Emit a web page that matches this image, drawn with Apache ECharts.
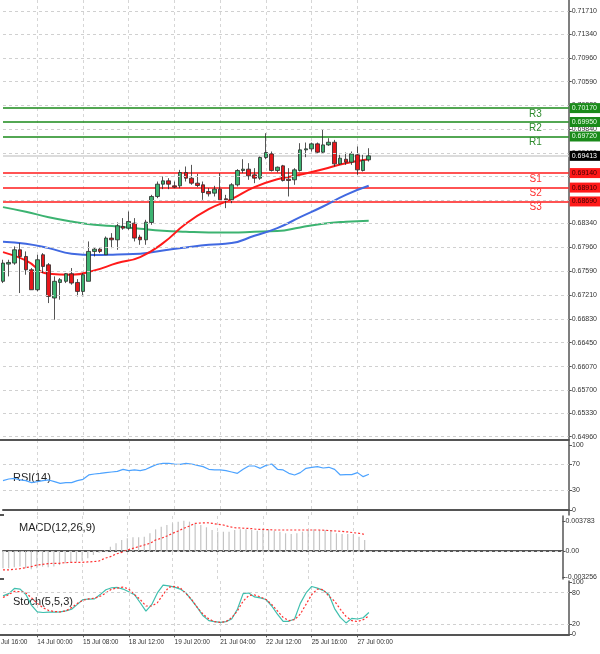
<!DOCTYPE html>
<html><head><meta charset="utf-8">
<script src="https://cdn.jsdelivr.net/npm/echarts@6/dist/echarts.min.js"></script>
<style>html,body{margin:0;padding:0;background:#fff}#c{width:600px;height:654px}</style>
</head><body><div id="c"></div>
<script>
// ---- data ----
const tickLabels = ['14 Jul 00:00','15 Jul 08:00','18 Jul 12:00','19 Jul 20:00','21 Jul 04:00','22 Jul 12:00','25 Jul 16:00','27 Jul 00:00'];
const tickIdx = [6,14,22,30,38,46,54,62];
const slotCount = 100;
const priceTicks = [0.71710,0.71340,0.70960,0.70590,0.70220,0.69840,0.69460,0.69090,0.68710,0.68340,0.67960,0.67590,0.67210,0.66830,0.66450,0.66070,0.65700,0.65330,0.64960];
// [open, close, low, high]
const candles = [
[0.67424,0.67713,0.67396,0.67766],[0.67697,0.67723,0.67502,0.67766],[0.67713,0.67924,0.67686,0.67977],[0.67924,0.67818,0.67238,0.68030],
[0.67818,0.67607,0.67528,0.67898],[0.67607,0.67290,0.67290,0.67634],[0.67290,0.67766,0.67264,0.67845],[0.67845,0.67660,0.67554,0.67871],
[0.67686,0.67185,0.67079,0.67713],[0.67159,0.67424,0.66815,0.67502],[0.67406,0.67449,0.67132,0.67475],[0.67424,0.67544,0.67396,0.67554],
[0.67544,0.67396,0.67370,0.67634],[0.67406,0.67264,0.67185,0.67459],[0.67264,0.67528,0.67185,0.67554],[0.67424,0.67898,0.67424,0.68056],
[0.67898,0.67934,0.67818,0.67966],[0.67934,0.67898,0.67871,0.67950],[0.67845,0.68109,0.67845,0.68135],[0.68109,0.68082,0.67950,0.68188],
[0.68082,0.68304,0.67924,0.68357],[0.68294,0.68267,0.68241,0.68426],[0.68267,0.68373,0.68241,0.68531],[0.68346,0.68109,0.68056,0.68426],
[0.68125,0.68082,0.68003,0.68162],[0.68082,0.68362,0.68003,0.68399],[0.68357,0.68769,0.68320,0.68795],[0.68769,0.68964,0.68742,0.69006],
[0.68964,0.69017,0.68885,0.69086],[0.69017,0.68964,0.68885,0.69059],[0.68938,0.68917,0.68901,0.69006],[0.68938,0.69149,0.68901,0.69191],
[0.69149,0.69059,0.69006,0.69244],[0.69059,0.68980,0.68954,0.69270],[0.68980,0.68943,0.68917,0.69128],[0.68954,0.68832,0.68716,0.69006],
[0.68848,0.68811,0.68769,0.68901],[0.68822,0.68885,0.68769,0.68938],[0.68885,0.68716,0.68716,0.69138],[0.68732,0.68716,0.68584,0.68795],
[0.68716,0.68954,0.68663,0.68980],[0.68954,0.69181,0.68927,0.69202],[0.69181,0.69202,0.69138,0.69360],[0.69202,0.69096,0.69033,0.69297],
[0.69112,0.69059,0.68980,0.69218],[0.69059,0.69387,0.69033,0.69402],[0.69387,0.69466,0.69360,0.69772],[0.69445,0.69181,0.69165,0.69482],
[0.69181,0.69233,0.69149,0.69244],[0.69255,0.69022,0.69006,0.69270],[0.69043,0.69022,0.68769,0.69218],[0.69033,0.69191,0.68954,0.69218],
[0.69181,0.69508,0.69165,0.69614],[0.69508,0.69524,0.69392,0.69624],[0.69524,0.69603,0.69482,0.69624],[0.69603,0.69471,0.69455,0.69624],
[0.69471,0.69587,0.69455,0.69825],[0.69587,0.69629,0.69571,0.69693],[0.69629,0.69286,0.69244,0.69666],[0.69286,0.69376,0.69270,0.69429],
[0.69360,0.69313,0.69270,0.69466],[0.69313,0.69445,0.69270,0.69482],[0.69429,0.69191,0.69112,0.69561],[0.69181,0.69339,0.69165,0.69429],
[0.69350,0.69413,0.69323,0.69534]];
const lastPrice = 0.69413;
// moving averages, sampled every 4th candle
const maStep = 4;
const maRed = [0.67887,0.67755,0.67544,0.67528,0.67597,0.67713,0.67808,0.68030,0.68336,0.68568,0.68727,0.68917,0.69043,0.69112,0.69202,0.69297,0.69360];
const maBlue = [0.68051,0.68019,0.67950,0.67861,0.67840,0.67850,0.67861,0.67914,0.67961,0.68003,0.68030,0.68146,0.68267,0.68441,0.68610,0.68795,0.68938];
const maGreen = [0.68600,0.68526,0.68441,0.68373,0.68320,0.68294,0.68257,0.68225,0.68209,0.68199,0.68199,0.68209,0.68220,0.68278,0.68336,0.68368,0.68384];
const resNames = ['R1','R2','R3'];
const resLevels = [0.69720,0.69950,0.70170];
const supNames = ['S1','S2','S3'];
const supLevels = [0.69140,0.68910,0.68690];
const rsi = [45.2,47.7,48.7,46.2,45.2,42.1,43.6,45.2,46.2,43.6,41.0,42.1,42.1,45.2,47.2,53.9,55.4,56.4,57.5,58.5,59.5,62.6,60.5,61.6,60.5,62.6,66.7,70.3,71.8,71.8,70.8,70.3,71.8,70.8,68.7,66.7,62.6,61.6,61.6,60.5,58.5,56.4,62.6,67.7,67.7,64.1,68.7,70.8,62.6,61.6,56.4,53.9,57.5,64.1,65.7,66.7,64.6,65.7,62.6,53.9,54.4,54.4,57.5,51.3,54.9];
const macdHist = [-0.00218,-0.00218,-0.00206,-0.00197,-0.00218,-0.00231,-0.00218,-0.00197,-0.00206,-0.00197,-0.00177,-0.00155,-0.00147,-0.00135,-0.00122,-0.00092,-0.00050,-0.00021,0.00013,0.00055,0.00097,0.00139,0.00160,0.00172,0.00172,0.00181,0.00223,0.00273,0.00307,0.00328,0.00349,0.00370,0.00382,0.00370,0.00349,0.00328,0.00299,0.00265,0.00244,0.00244,0.00244,0.00265,0.00273,0.00273,0.00265,0.00256,0.00273,0.00273,0.00256,0.00244,0.00223,0.00214,0.00223,0.00244,0.00265,0.00273,0.00265,0.00265,0.00265,0.00223,0.00214,0.00214,0.00214,0.00181,0.00139];
const macdSignal = [-0.00239,-0.00239,-0.00231,-0.00223,-0.00210,-0.00197,-0.00176,-0.00168,-0.00159,-0.00155,-0.00155,-0.00147,-0.00143,-0.00143,-0.00143,-0.00138,-0.00134,-0.00126,-0.00092,-0.00071,-0.00038,-0.00017,0.00013,0.00034,0.00055,0.00076,0.00097,0.00139,0.00160,0.00189,0.00223,0.00252,0.00286,0.00315,0.00349,0.00353,0.00357,0.00349,0.00336,0.00328,0.00307,0.00294,0.00290,0.00286,0.00282,0.00273,0.00273,0.00269,0.00265,0.00265,0.00265,0.00265,0.00265,0.00265,0.00265,0.00265,0.00265,0.00261,0.00256,0.00252,0.00248,0.00240,0.00231,0.00223,0.00210];
const stochMain = [73.8,78.1,88.1,86.9,76.3,55.6,43.1,41.9,42.5,42.5,43.1,45.0,48.1,57.5,66.9,67.5,68.1,76.3,85.6,89.4,90.0,86.9,81.9,76.3,60.6,44.4,56.9,79.4,94.4,93.1,90.6,86.9,79.4,65.6,51.3,35.6,26.3,24.4,23.1,24.4,29.4,48.1,78.1,79.4,71.9,70.0,66.9,54.4,38.8,25.0,25.0,29.4,59.4,79.4,91.9,88.8,84.4,76.3,49.4,32.5,21.9,30.6,29.4,31.9,41.9];
const stochSignal = [70.6,76.3,82.5,81.9,79.4,70.0,59.4,51.3,45.6,43.8,43.1,45.0,51.3,59.4,65.6,68.1,69.4,73.1,79.4,86.9,88.8,90.6,86.9,76.3,66.9,54.4,54.4,60.6,76.3,90.6,91.9,89.4,78.1,66.9,51.3,38.8,29.4,24.4,23.1,24.4,31.9,45.0,63.8,74.4,75.6,71.9,66.9,57.5,45.0,32.5,26.3,28.1,38.8,57.5,76.3,86.9,85.6,73.1,63.8,48.1,34.4,26.3,24.4,28.1,35.6];
const rsiTicks=[0,30,70,100], rsiGrid=[30,70];
const macdTicks=[-0.003256,0,0.003783];
const stochTicks=[0,20,80,100], stochGrid=[20,80];

// ---- build ----
const cats = Array.from({length:slotCount},(_,i)=>{const k=tickIdx.indexOf(i);return k>=0?tickLabels[k]:'c'+i;});
const sparse = arr => { const out = Array(slotCount).fill(null); arr.forEach((v,i)=>out[i*maStep]=v); return out; };
const isTick = (i)=>tickIdx.includes(i);
const F = 'Liberation Sans, Arial, sans-serif';
const grids = [
  {left:3,right:31,top:0,height:440},
  {left:3,right:31,top:440,height:75},
  {left:3,right:31,top:516,height:63},
  {left:3,right:31,top:581,height:54}
];
const xAxes = grids.map((g,i)=>({
  type:'category', gridIndex:i, data:cats, boundaryGap:false,
  axisLine:{show:true,lineStyle:{color:'#555',width:2}},
  axisTick:{show:i===3,interval:isTick,length:3,lineStyle:{color:'#555'}},
  axisLabel:{show:i===3,interval:isTick,align:'left',fontSize:6.5,color:'#333',fontFamily:F,margin:4},
  splitLine:{show:true,interval:isTick,lineStyle:{color:'#d6d6d6',type:[3,3],width:1}}
}));
const yBase = (i,min,max,vals,fmt)=>({
  type:'value', gridIndex:i, position:'right', min, max, scale:true,
  axisLine:{show:true,lineStyle:{color:'#555',width:1.5}},
  axisTick:{show:true,customValues:vals,length:3,lineStyle:{color:'#555'}},
  axisLabel:{customValues:vals,formatter:fmt,fontSize:7,color:'#333',fontFamily:F,margin:3,overflow:'none',width:60},
  splitLine:{show:false}
});
const yAxes = [
  yBase(0,0.64908,0.71884,priceTicks,v=>v.toFixed(5)),
  yBase(1,-7.7,107.7,rsiTicks,v=>String(v)),
  yBase(2,-0.003531,0.004414,macdTicks,v=>v===0?'0.00':v.toFixed(6)),
  yBase(3,-1.3,102.4,stochTicks,v=>String(v))
];
const lastSlot = slotCount-1;
const hl = (v,lineStyle,label)=>[{coord:[0,v],lineStyle,label},{coord:[lastSlot,v]}];
const gridLines = (vals)=>({silent:true,symbol:'none',label:{show:false},data:vals.map(v=>hl(v,{color:'#d0d0d0',type:[3,3],width:1},{show:false}))});
const boxLabel = (v,bg,fg)=>({show:true,position:'end',formatter:v.toFixed(5),backgroundColor:bg,color:fg,fontSize:7,fontFamily:F,padding:[2,3,1,2],distance:1});
const levelLine = (v,color,fg)=>hl(v,{color:color,width:1.5,type:'solid'},boxLabel(v,color,fg));
const levelName = (v,n,color)=>hl(v,{color:'rgba(0,0,0,0)',width:1},{show:true,position:'insideEndBottom',formatter:n,color:color,fontSize:10,fontFamily:F,distance:[27,1]});

const series = [
  {type:'candlestick',xAxisIndex:0,yAxisIndex:0,data:candles,barWidth:4,z:3,
    itemStyle:{color:'#3cb371',color0:'#e8161b',borderColor:'#2a2a2a',borderColor0:'#2a2a2a',borderWidth:0.8},
    markLine:{silent:true,symbol:'none',z:1,data:[
      hl(lastPrice,{color:'#dcdcdc',width:2,type:'solid'},boxLabel(lastPrice,'#000','#fff')),
      ...resLevels.map(v=>levelLine(v,'#1a8a1a','#e8ffe8')),
      ...supLevels.map(v=>levelLine(v,'#ff1a1a','#400000'))
    ]}},
  {type:'line',xAxisIndex:0,yAxisIndex:0,data:sparse(maGreen),connectNulls:true,smooth:true,symbol:'none',lineStyle:{color:'#3cb371',width:2},
    markLine:gridLines(priceTicks)},
  {type:'line',xAxisIndex:0,yAxisIndex:0,data:sparse(maBlue),connectNulls:true,smooth:true,symbol:'none',lineStyle:{color:'#4169e1',width:2},
    markLine:{silent:true,symbol:'none',data:[
      ...resLevels.map((v,i)=>levelName(v,resNames[i],'#2e8b2e')),
      ...supLevels.map((v,i)=>levelName(v,supNames[i],'#ff3030'))
    ]}},
  {type:'line',xAxisIndex:0,yAxisIndex:0,data:sparse(maRed),connectNulls:true,smooth:true,symbol:'none',lineStyle:{color:'#ff1a1a',width:2}},
  {type:'line',xAxisIndex:1,yAxisIndex:1,data:rsi,symbol:'none',lineStyle:{color:'#4da3ff',width:1.2},markLine:gridLines(rsiGrid)},
  {type:'bar',xAxisIndex:2,yAxisIndex:2,data:macdHist,barWidth:1.2,itemStyle:{color:'#c4c4c4'},markLine:gridLines([0])},
  {type:'line',xAxisIndex:2,yAxisIndex:2,data:macdSignal,symbol:'none',lineStyle:{color:'#ff3030',width:1.2,type:[2,2]}},
  {type:'line',xAxisIndex:3,yAxisIndex:3,data:stochMain,symbol:'none',lineStyle:{color:'#3fbfae',width:1.2},markLine:gridLines(stochGrid)},
  {type:'line',xAxisIndex:3,yAxisIndex:3,data:stochSignal,symbol:'none',lineStyle:{color:'#ff3030',width:1.2,type:[2,2]}}
];
const chart = echarts.init(document.getElementById('c'),null,{renderer:'canvas'});
chart.setOption({
  animation:false, backgroundColor:'#fff',
  grid:grids, xAxis:xAxes, yAxis:yAxes, series,
  graphic:[
    {type:'text',left:13,top:472,style:{text:'RSI(14)',fontSize:11,fontFamily:F,fill:'#222'}},
    {type:'text',left:19,top:522,style:{text:'MACD(12,26,9)',fontSize:11,fontFamily:F,fill:'#222'}},
    {type:'text',left:13,top:596,style:{text:'Stoch(5,5,3)',fontSize:11,fontFamily:F,fill:'#222'}},
    {type:'text',left:-8,top:639,style:{text:'13 Jul 16:00',fontSize:6.5,fontFamily:F,fill:'#333'}},
    {type:'line',shape:{x1:0,y1:440,x2:4,y2:440},style:{stroke:'#555',lineWidth:2}},
    {type:'line',shape:{x1:0,y1:515,x2:4,y2:515},style:{stroke:'#555',lineWidth:2}},
    {type:'line',shape:{x1:0,y1:579,x2:4,y2:579},style:{stroke:'#555',lineWidth:2}},
    {type:'line',shape:{x1:0,y1:635,x2:4,y2:635},style:{stroke:'#555',lineWidth:2}}
  ]
});
</script></body></html>
